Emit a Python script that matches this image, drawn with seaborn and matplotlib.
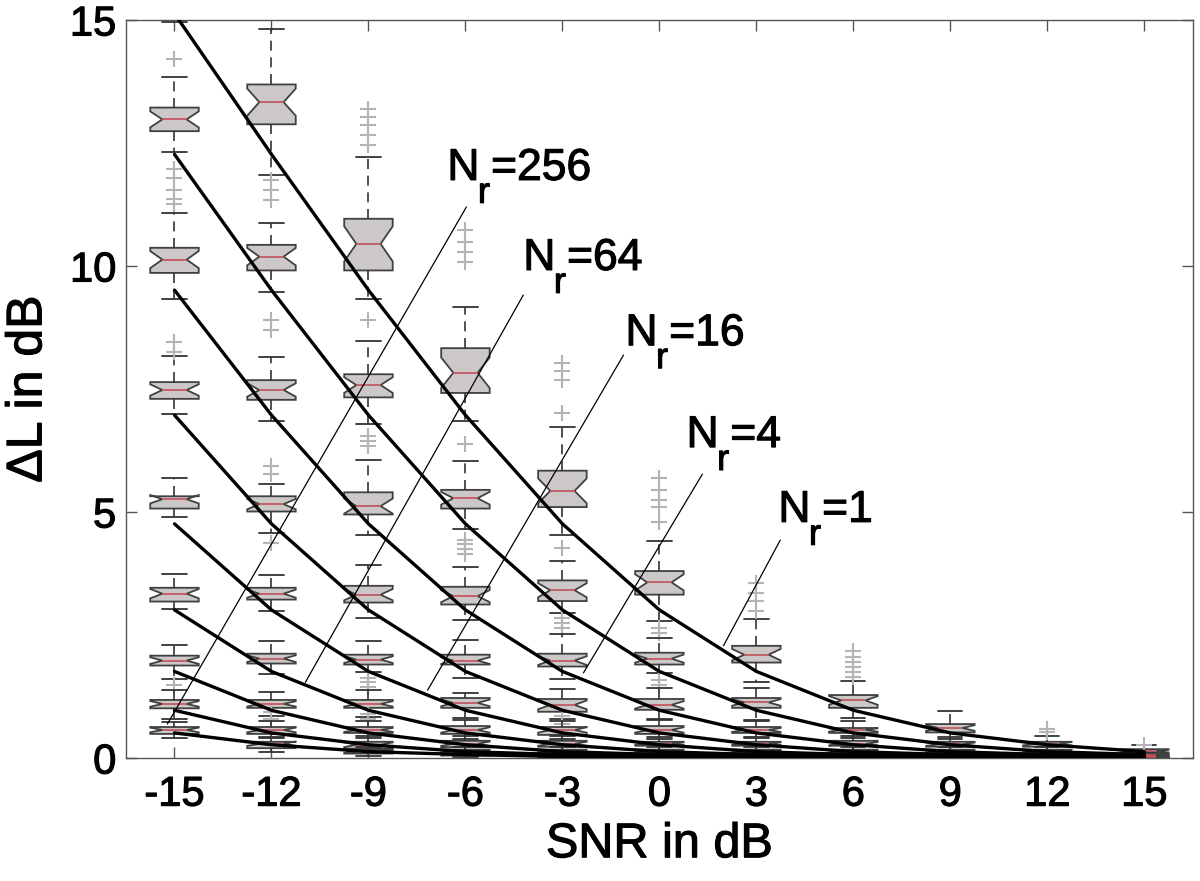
import matplotlib
matplotlib.use("Agg")
import matplotlib.pyplot as plt
import matplotlib.patheffects as pe
import pandas as pd
import seaborn as sns

SNR = [-15, -12, -9, -6, -3, 0, 3, 6, 9, 12, 15]
SNR_LABELS = ["-15", "-12", "-9", "-6", "-3", "0", "3", "6", "9", "12", "15"]
NR = [1, 2, 4, 8, 16, 32, 64, 128, 256]

# theoretical Delta L curves (one row per N_r, one value per SNR)
CURVES = [
    [15.13, 12.27, 9.51, 6.97, 4.76, 3.01, 1.76, 0.97, 0.51, 0.27, 0.13],
    [12.27, 9.51, 6.97, 4.76, 3.01, 1.76, 0.97, 0.51, 0.27, 0.13, 0.07],
    [9.51, 6.97, 4.76, 3.01, 1.76, 0.97, 0.51, 0.27, 0.13, 0.07, 0.03],
    [6.97, 4.76, 3.01, 1.76, 0.97, 0.51, 0.27, 0.13, 0.07, 0.03, 0.02],
    [4.76, 3.01, 1.76, 0.97, 0.51, 0.27, 0.13, 0.07, 0.03, 0.02, 0.01],
    [3.01, 1.76, 0.97, 0.51, 0.27, 0.13, 0.07, 0.03, 0.02, 0.01, 0.00],
    [1.76, 0.97, 0.51, 0.27, 0.13, 0.07, 0.03, 0.02, 0.01, 0.00, 0.00],
    [0.97, 0.51, 0.27, 0.13, 0.07, 0.03, 0.02, 0.01, 0.00, 0.00, 0.00],
    [0.51, 0.27, 0.13, 0.07, 0.03, 0.02, 0.01, 0.00, 0.00, 0.00, 0.00],
]

# measured box statistics, rows = N_r, columns = SNR
BOX_MED = [
    [16.0, 13.33, 10.45, 7.83, 5.43, 3.57, 2.10, 1.17, 0.61, 0.29, 0.14],
    [12.98, 10.19, 7.58, 5.28, 3.41, 2.02, 1.13, 0.57, 0.28, 0.14, 0.07],
    [10.13, 7.48, 5.12, 3.29, 1.98, 1.08, 0.57, 0.29, 0.14, 0.07, 0.035],
    [7.48, 5.16, 3.32, 1.98, 1.08, 0.57, 0.29, 0.14, 0.07, 0.035, 0.018],
    [5.26, 3.34, 2.00, 1.12, 0.57, 0.29, 0.14, 0.07, 0.035, 0.018, 0.009],
    [3.34, 2.02, 1.10, 0.57, 0.29, 0.14, 0.07, 0.035, 0.018, 0.009, 0.005],
    [1.98, 1.10, 0.57, 0.29, 0.14, 0.07, 0.035, 0.018, 0.009, 0.005, 0.002],
    [1.10, 0.57, 0.27, 0.14, 0.07, 0.035, 0.018, 0.009, 0.005, 0.002, 0.001],
    [0.57, 0.29, 0.13, 0.07, 0.035, 0.018, 0.009, 0.005, 0.002, 0.001, 0.001],
]
BOX_Q1 = [
    [15.5, 12.88, 9.91, 7.42, 5.10, 3.32, 1.94, 1.02, 0.52, 0.23, 0.10],
    [12.74, 9.91, 7.33, 5.07, 3.19, 1.90, 1.02, 0.51, 0.23, 0.10, 0.05],
    [9.86, 7.28, 4.95, 3.12, 1.86, 0.98, 0.51, 0.25, 0.10, 0.05, 0.02],
    [7.30, 5.01, 3.16, 1.90, 0.94, 0.49, 0.25, 0.10, 0.05, 0.02, 0.01],
    [5.07, 3.22, 1.90, 1.02, 0.47, 0.25, 0.10, 0.05, 0.02, 0.01, 0.005],
    [3.18, 1.92, 1.02, 0.49, 0.23, 0.10, 0.05, 0.02, 0.01, 0.005, 0.003],
    [1.88, 1.02, 0.51, 0.22, 0.10, 0.05, 0.02, 0.01, 0.005, 0.003, 0.001],
    [1.01, 0.49, 0.19, 0.10, 0.05, 0.02, 0.01, 0.005, 0.003, 0.001, 0.001],
    [0.49, 0.20, 0.09, 0.05, 0.02, 0.01, 0.005, 0.003, 0.001, 0.001, 0.0],
]
BOX_Q3 = [
    [16.5, 13.69, 10.96, 8.33, 5.84, 3.80, 2.28, 1.28, 0.69, 0.33, 0.18],
    [13.22, 10.43, 7.80, 5.45, 3.61, 2.14, 1.22, 0.61, 0.33, 0.17, 0.09],
    [10.37, 7.68, 5.40, 3.48, 2.12, 1.20, 0.63, 0.35, 0.17, 0.09, 0.05],
    [7.64, 5.32, 3.50, 2.10, 1.20, 0.65, 0.33, 0.17, 0.09, 0.05, 0.025],
    [5.32, 3.46, 2.10, 1.22, 0.63, 0.33, 0.17, 0.09, 0.05, 0.025, 0.013],
    [3.46, 2.12, 1.18, 0.65, 0.35, 0.17, 0.09, 0.05, 0.025, 0.013, 0.007],
    [2.08, 1.18, 0.63, 0.35, 0.17, 0.09, 0.05, 0.025, 0.013, 0.007, 0.003],
    [1.18, 0.63, 0.33, 0.17, 0.09, 0.05, 0.025, 0.013, 0.007, 0.003, 0.002],
    [0.63, 0.33, 0.17, 0.09, 0.05, 0.025, 0.013, 0.007, 0.003, 0.002, 0.0015],
]
BOX_WLO = [
    [14.95, 11.85, 9.33, 6.85, 4.53, 2.78, 1.55, 0.82, 0.38, 0.15, 0.05],
    [12.31, 9.47, 6.79, 4.65, 2.95, 1.73, 0.77, 0.40, 0.15, 0.05, 0.02],
    [9.33, 6.85, 4.54, 2.81, 1.60, 0.80, 0.40, 0.16, 0.05, 0.02, 0.01],
    [6.99, 4.58, 2.85, 1.63, 0.80, 0.38, 0.15, 0.05, 0.02, 0.01, 0.005],
    [4.89, 2.98, 1.75, 0.82, 0.38, 0.15, 0.05, 0.02, 0.01, 0.005, 0.002],
    [3.02, 1.71, 0.84, 0.38, 0.12, 0.05, 0.02, 0.01, 0.005, 0.002, 0.001],
    [1.61, 0.85, 0.40, 0.12, 0.05, 0.02, 0.01, 0.005, 0.002, 0.001, 0.0],
    [0.79, 0.40, 0.10, 0.05, 0.02, 0.01, 0.005, 0.002, 0.001, 0.0, 0.0],
    [0.40, 0.12, 0.04, 0.02, 0.01, 0.005, 0.002, 0.001, 0.0, 0.0, 0.0],
]
BOX_WHI = [
    [17.5, 14.82, 12.21, 9.17, 6.73, 4.42, 2.83, 1.56, 0.96, 0.45, 0.27],
    [13.84, 10.88, 8.48, 6.04, 4.00, 2.44, 1.42, 0.75, 0.42, 0.23, 0.12],
    [11.08, 8.15, 6.05, 3.89, 2.52, 1.42, 0.75, 0.45, 0.23, 0.12, 0.07],
    [8.17, 5.56, 3.93, 2.40, 1.40, 0.78, 0.42, 0.23, 0.12, 0.07, 0.035],
    [5.69, 3.71, 2.38, 1.32, 0.75, 0.42, 0.23, 0.12, 0.07, 0.035, 0.018],
    [3.75, 2.37, 1.39, 0.78, 0.45, 0.23, 0.12, 0.07, 0.035, 0.018, 0.01],
    [2.30, 1.35, 0.75, 0.45, 0.23, 0.12, 0.07, 0.035, 0.018, 0.01, 0.005],
    [1.39, 0.75, 0.45, 0.23, 0.12, 0.07, 0.035, 0.018, 0.01, 0.005, 0.003],
    [0.73, 0.42, 0.23, 0.12, 0.07, 0.035, 0.018, 0.01, 0.005, 0.003, 0.002],
]
# outliers: (N_r index, SNR index) -> values
FLIERS = {
    (0, 1): [11.75, 11.55, 11.35],
    (0, 2): [12.46, 12.66, 12.87, 13.03, 13.2],
    (0, 3): [10.08, 10.28, 10.49, 10.73, 6.38],
    (0, 4): [7.01, 7.69, 7.86, 8.03, 4.27],
    (0, 5): [4.8, 5.1, 5.25, 5.45, 5.7, 2.65, 2.55],
    (0, 6): [2.98, 3.19, 3.36, 3.56],
    (0, 7): [1.65, 1.75, 1.85, 1.95, 2.05, 2.18],
    (0, 9): [0.53, 0.58],
    (0, 10): [0.27],
    (1, 0): [14.2],
    (1, 1): [8.9, 8.7],
    (1, 2): [8.9, 6.55, 6.45, 6.35],
    (1, 3): [4.44, 4.34, 4.24, 4.14],
    (1, 4): [2.85, 2.75, 2.65],
    (1, 5): [1.59, 1.49],
    (2, 0): [11.27, 11.37, 11.54, 11.78, 11.98],
    (3, 0): [8.25, 8.45],
    (3, 1): [5.77, 5.93, 4.38],
    (3, 4): [0.85, 0.7],
    (4, 2): [1.63, 1.55, 1.45],
    (5, 2): [0.9, 0.8],
    (6, 0): [1.49],
    (6, 1): [0.93, 0.8],
}

LABEL_TEXT = ["256", "64", "16", "4", "1"]
LABEL_XY = [(-6.56, 11.75), (-4.21, 9.92), (-1.05, 8.39), (0.84, 6.32), (3.68, 4.80)]
LEADER_FROM = [(-5.97, 11.20), (-4.21, 9.41), (-1.11, 8.19), (1.33, 5.77), (3.74, 4.43)]
LEADER_TO = [(-15.22, 0.69), (-10.95, 1.54), (-7.17, 1.38), (-2.35, 1.73), (1.98, 2.28)]

NOTCH = 0.34
HEAVY = [pe.withStroke(linewidth=0.8, foreground="black")]

sns.set_theme(style="ticks")
plt.rcParams["font.family"] = ["Liberation Sans", "DejaVu Sans"]

fig = plt.figure(figsize=(12, 8.81), dpi=100)
ax = fig.add_axes([0.105, 0.1396, 0.889, 0.8377])

stats, positions = [], []
for i in range(len(NR)):
    for j, s in enumerate(SNR):
        med, q1, q3 = BOX_MED[i][j], BOX_Q1[i][j], BOX_Q3[i][j]
        iqr = q3 - q1
        stats.append({
            "med": med, "q1": q1, "q3": q3,
            "whislo": BOX_WLO[i][j], "whishi": BOX_WHI[i][j],
            "cilo": med - NOTCH * iqr, "cihi": med + NOTCH * iqr,
            "fliers": FLIERS.get((i, j), []),
        })
        positions.append(s)

ax.bxp(
    stats, positions=positions, widths=1.5, patch_artist=True, shownotches=True,
    boxprops=dict(facecolor="#ccc8c8", edgecolor="#404040", linewidth=1.3),
    medianprops=dict(color="#c0505a", linewidth=1.2),
    whiskerprops=dict(color="#333333", linewidth=1.2, linestyle=(0, (6, 4))),
    capprops=dict(color="#333333", linewidth=1.3),
    flierprops=dict(marker="+", markersize=11, markeredgecolor="#b4b4b4",
                    markeredgewidth=1.5, linestyle="none"),
    manage_ticks=False,
)

curve_df = pd.DataFrame(
    [(s, CURVES[i][j], str(nr)) for i, nr in enumerate(NR) for j, s in enumerate(SNR)],
    columns=["snr", "dl", "nr"],
)
sns.lineplot(
    data=curve_df, x="snr", y="dl", hue="nr",
    palette={str(nr): "black" for nr in NR},
    linewidth=2.4, errorbar=None, legend=False, ax=ax, zorder=5,
)

for (x0, y0), (x1, y1) in zip(LEADER_FROM, LEADER_TO):
    ax.plot([x0, x1], [y0, y1], color="black", linewidth=0.9, zorder=6)

for txt, (x, y) in zip(LABEL_TEXT, LABEL_XY):
    ax.text(x, y, "N", fontsize=32, color="black", ha="left", va="baseline",
            zorder=7, path_effects=HEAVY)
    ax.annotate("r", (x, y), xytext=(22, -16.5), textcoords="offset points",
                fontsize=26, color="black", ha="left", va="baseline", zorder=7,
                path_effects=HEAVY)
    ax.annotate("=" + txt, (x, y), xytext=(31.5, 0), textcoords="offset points",
                fontsize=32, color="black", ha="left", va="baseline", zorder=7,
                path_effects=HEAVY)

ax.set_xlim(-16.5, 16.5)
ax.set_ylim(0, 15)
ax.set_xticks(SNR)
ax.set_xticklabels(SNR_LABELS)
ax.set_yticks([0, 5, 10, 15])
ax.set_yticklabels(["0", "5", "10", "15"])

ax.tick_params(direction="in", length=8, width=1, color="#555555",
               top=True, right=True, labelsize=30, labelcolor="black")
ax.tick_params(axis="x", pad=12)
ax.tick_params(axis="y", pad=7)
for sp in ax.spines.values():
    sp.set_visible(True)
    sp.set_color("#555555")
    sp.set_linewidth(1.0)

ax.set_xlabel("SNR in dB", fontsize=35, color="black")
ax.set_ylabel("\u0394L in dB", fontsize=36, color="black")
ax.xaxis.set_label_coords(0.5, -0.087)
ax.yaxis.set_label_coords(-0.07, 0.5)

for t in ax.get_xticklabels() + ax.get_yticklabels():
    t.set_path_effects(HEAVY)
ax.xaxis.label.set_path_effects(HEAVY)
ax.yaxis.label.set_path_effects(HEAVY)

fig.savefig("out.png", dpi=100)
